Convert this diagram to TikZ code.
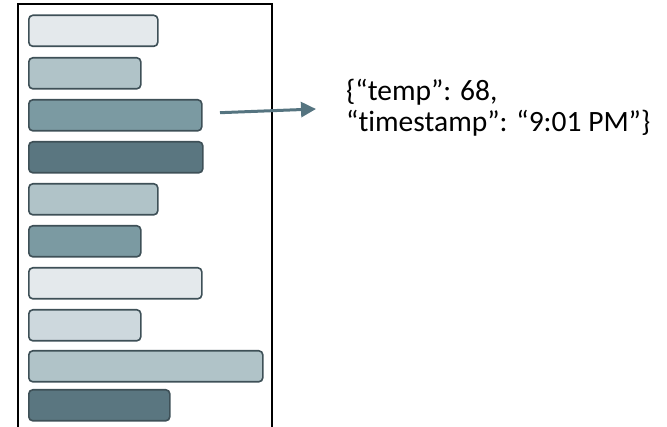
\documentclass[tikz,border=0pt]{standalone}
\usepackage{fontspec}
\setmainfont{Carlito}[Ligatures=NoCommon]
\usetikzlibrary{arrows.meta}
\definecolor{cA}{HTML}{E4E9EC}
\definecolor{cB}{HTML}{B0C3C8}
\definecolor{cC}{HTML}{7B9AA2}
\definecolor{cD}{HTML}{5A7680}
\definecolor{cE}{HTML}{CDD8DD}
\definecolor{edge}{HTML}{3E5057}
\definecolor{arrc}{HTML}{557480}
\tikzset{
  bar/.style={draw=edge, line width=1.6pt, rounded corners=4pt, minimum height=31pt, anchor=north west, inner sep=0pt},
  arr/.style={-{Triangle[length=15pt,width=15pt]}, draw=arrc, line width=3pt},
  frame/.style={draw=black, line width=2pt},
  json/.style={anchor=base west, align=left, inner sep=0pt, font=\fontsize{29.5}{31}\selectfont}
}
\begin{document}
\begin{tikzpicture}[x=1pt,y=-1pt]
\useasboundingbox (0,0) rectangle (667,427);
\draw[frame] (18,430) -- (18,4) -- (272,4) -- (272,430);
\node[bar, fill=cA, minimum width=129pt] (b1) at (28,14.5) {};
\node[bar, fill=cB, minimum width=112pt] (b2) at (28,57) {};
\node[bar, fill=cC, minimum width=173pt] (b3) at (28,99) {};
\node[bar, fill=cD, minimum width=174pt] (b4) at (28,141) {};
\node[bar, fill=cB, minimum width=129pt] (b5) at (28,183) {};
\node[bar, fill=cC, minimum width=112pt] (b6) at (28,225) {};
\node[bar, fill=cA, minimum width=173pt] (b7) at (28,267) {};
\node[bar, fill=cE, minimum width=112pt] (b8) at (28,309) {};
\node[bar, fill=cB, minimum width=234pt] (b9) at (28,350) {};
\node[bar, fill=cD, minimum width=141pt] (b10) at (28,389) {};
\node[json] (t) at (346,132) {\{“temp”: 68,\\“timestamp”: “9:01 PM”\}};
\coordinate (as) at (220,112.7);
\coordinate (ae) at (316,109);
\draw[arr] (as) -- (ae);
\end{tikzpicture}
\end{document}
